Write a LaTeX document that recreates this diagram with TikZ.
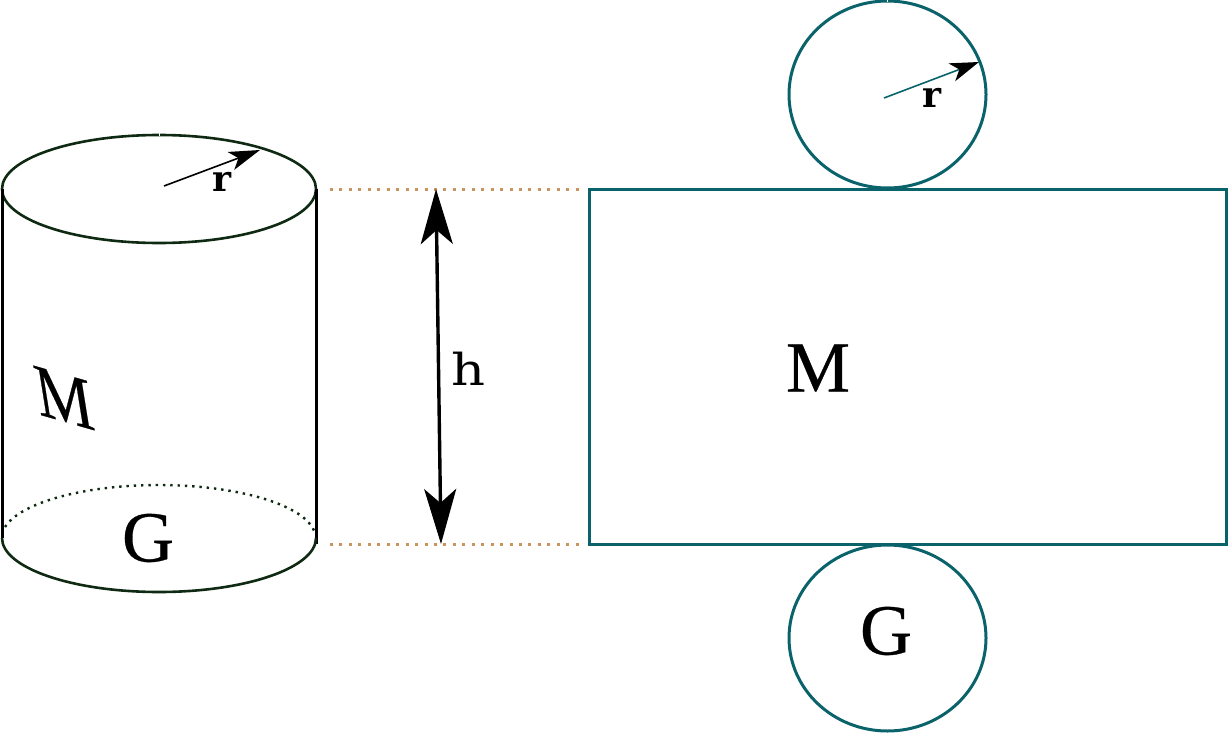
\documentclass[tikz,border=0pt]{standalone}
\usepackage{fontspec}
\usetikzlibrary{arrows.meta,shapes.geometric}
\newfontfamily\timesheavy[FakeBold=0.4]{Liberation Serif}
\newfontfamily\slabfont{DejaVu Serif}
\newfontfamily\slabbold{DejaVu Serif Bold}
\definecolor{cyl}{HTML}{0F2A12}
\definecolor{net}{HTML}{0A636B}
\definecolor{guide}{HTML}{C8955F}
\tikzset{
  cylline/.style={draw=cyl,line width=2.6pt},
  cylside/.style={draw=black,line width=3pt},
  netline/.style={draw=net,line width=3pt},
  round shape/.style={shape=ellipse,inner sep=0pt,outer sep=0pt},
  guideline/.style={draw=guide,line width=3pt,dash pattern=on 3pt off 6.45pt},
  bigtext/.style={inner sep=0pt,font=\timesheavy\fontsize{72}{72}\selectfont},
  smalltext/.style={inner sep=0pt,font=\slabbold\fontsize{36}{36}\selectfont},
  htext/.style={inner sep=0pt,font=\slabfont\fontsize{44}{44}\selectfont},
  gap/.style={draw=white,line width=1pt}
}
\begin{document}
\begin{tikzpicture}[x=1pt,y=-1pt]
\useasboundingbox (0,0) rectangle (1228,733);
% cylinder
\node[round shape,cylline,minimum width=314pt,minimum height=108pt] (top) at (159,189) {};
\coordinate (tl) at (2,189); \coordinate (tr) at (316,189);
\coordinate (bl) at (2,538); \coordinate (br) at (316,544);
\draw[cylside] (tl) -- (bl);
\draw[cylside] (tr) -- (br);
\draw[cylline] (2,538) arc[start angle=180,end angle=360,x radius=157,y radius=-54];
\draw[draw=cyl,line width=2.4pt,dash pattern=on 2.4pt off 4.9pt]
  (5,527) arc[start angle=168,end angle=8,x radius=157,y radius=-53];
\draw[gap] (159,133.5) -- (159,136);
% top radius arrow
\coordinate (ra) at (164,186); \coordinate (rb) at (260,150);
\draw[black,line width=1.6pt,-{Stealth[length=31pt,width=19pt,inset=8pt]}] (ra) -- (rb);
\node[smalltext] (rl) at (222,182) {r};
\node[bigtext,transform shape,xslant=-0.16,yslant=-0.3,xscale=0.85,yscale=1.05] (ml) at (64,398) {M};
\node[bigtext] (gl) at (148,538) {G};
% guides
\coordinate (ga) at (330,189); \coordinate (gb) at (582,189);
\coordinate (gc) at (330,544); \coordinate (gd) at (582,544);
\draw[guideline] (ga) -- (gb);
\draw[guideline] (gc) -- (gd);
% height arrow
\coordinate (ha) at (436,189); \coordinate (hb) at (441,544);
\draw[black,line width=3.4pt,{Stealth[length=55pt,width=32pt,inset=14pt]}-{Stealth[length=55pt,width=32pt,inset=14pt]}] (ha) -- (hb);
\node[htext,transform shape,xscale=1.2] (hl) at (468,369) {h};
% net
\node[draw=net,line width=3pt,minimum width=637pt,minimum height=355pt,inner sep=0pt,outer sep=0pt] (rect) at (907.5,366.5) {};
\node[round shape,netline,minimum width=197pt,minimum height=187pt] (c1) at (887.5,94.5) {};
\node[round shape,netline,minimum width=197pt,minimum height=186pt] (c2) at (887.5,638) {};
\draw[gap] (887.5,-0.5) -- (887.5,2.5);
\coordinate (rc) at (884,98); \coordinate (rd) at (979,62);
\draw[draw=net,line width=1.6pt,-{Stealth[length=29pt,width=19pt,inset=8pt,fill=black,color=black]}] (rc) -- (rd);
\node[smalltext] (rr) at (932,98) {r};
\node[bigtext] (mr) at (818,368) {M};
\node[bigtext] (gr) at (886,631) {G};
\end{tikzpicture}
\end{document}
